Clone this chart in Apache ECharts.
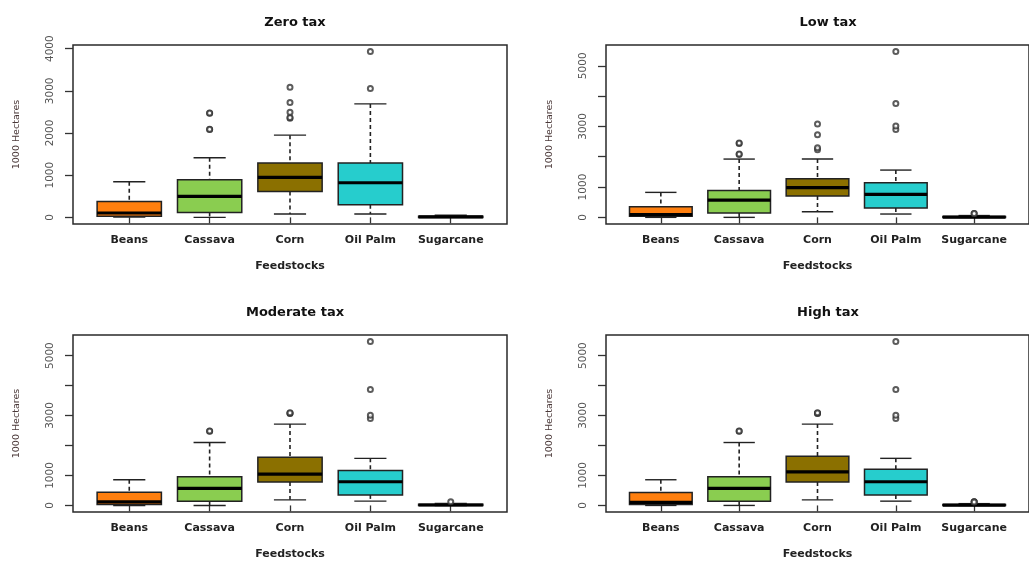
<!DOCTYPE html>
<html>
<head>
<meta charset="utf-8">
<script src="https://cdn.jsdelivr.net/npm/echarts@6/dist/echarts.min.js"></script>
<style>
html, body { margin: 0; padding: 0; background: #fff; }
#chart { width: 1029px; height: 561px; }
</style>
</head>
<body>
<div id="chart"></div>
<script>
// feedstock area under four tax scenarios, boxplots drawn R-style
const categories = ['Beans', 'Cassava', 'Corn', 'Oil Palm', 'Sugarcane'];
const boxColors = ['#ff7f0e', '#8acd50', '#8b7000', '#26cdcd', '#222222'];
const panelTitles = ['Zero tax', 'Low tax', 'Moderate tax', 'High tax'];

// [min, q1, median, q3, max] per feedstock
const zeroTaxBoxes = [
    [10, 24, 104, 379, 845],
    [0, 118, 497, 892, 1412],
    [79, 615, 947, 1287, 1949],
    [79, 300, 821, 1287, 2690],
    [0, 0, 10, 25, 50]
];
const lowTaxBoxes = [
    [0, 33, 88, 352, 824],
    [0, 143, 571, 890, 1923],
    [187, 703, 978, 1275, 1923],
    [110, 308, 758, 1143, 1560],
    [0, 0, 10, 30, 60]
];
const moderateTaxBoxes = [
    [0, 33, 121, 440, 857],
    [0, 143, 571, 956, 2099],
    [187, 780, 1044, 1604, 2714],
    [143, 352, 791, 1165, 1571],
    [0, 0, 15, 40, 70]
];
const highTaxBoxes = [
    [0, 33, 99, 429, 857],
    [0, 143, 571, 956, 2099],
    [187, 780, 1121, 1637, 2714],
    [143, 352, 791, 1209, 1571],
    [0, 0, 10, 35, 60]
];

// outliers: [feedstock number, value]
const zeroTaxOutliers = [
    [2, 2083], [2, 2090], [2, 2469], [2, 2475],
    [3, 2351], [3, 2370], [3, 2493], [3, 2722], [3, 3085],
    [4, 3053], [4, 3929]
];
const lowTaxOutliers = [
    [2, 2077], [2, 2090], [2, 2440], [2, 2452],
    [3, 2231], [3, 2297], [3, 2725], [3, 3077],
    [4, 2900], [4, 3010], [4, 3758], [4, 5473],
    [5, 130], [5, 125]
];
const moderateTaxOutliers = [
    [2, 2473], [2, 2480],
    [3, 3070], [3, 3077], [3, 3090],
    [4, 2900], [4, 3010], [4, 3868], [4, 5473],
    [5, 121]
];
const highTaxOutliers = [
    [2, 2473], [2, 2480],
    [3, 3070], [3, 3077], [3, 3090],
    [4, 2900], [4, 3010], [4, 3868], [4, 5473],
    [5, 121], [5, 125], [5, 118]
];

const zeroTaxTicks = [0, 1000, 2000, 3000, 4000];
const zeroTaxLabels = [0, 1000, 2000, 3000, 4000];
const taxTicks = [0, 1000, 2000, 3000, 4000, 5000];
const taxLabels = [0, 1000, 3000, 5000];

const panels = [
    { boxes: zeroTaxBoxes, outliers: zeroTaxOutliers, yMin: -157, yMax: 4086, ticks: zeroTaxTicks, labels: zeroTaxLabels },
    { boxes: lowTaxBoxes, outliers: lowTaxOutliers, yMin: -219, yMax: 5686, ticks: taxTicks, labels: taxLabels },
    { boxes: moderateTaxBoxes, outliers: moderateTaxOutliers, yMin: -219, yMax: 5686, ticks: taxTicks, labels: taxLabels },
    { boxes: highTaxBoxes, outliers: highTaxOutliers, yMin: -219, yMax: 5686, ticks: taxTicks, labels: taxLabels }
];

const gridPos = [
    { left: 73, top: 45 },
    { left: 606, top: 45 },
    { left: 73, top: 335 },
    { left: 606, top: 335 }
];

const font = 'DejaVu Sans';

function renderBox(params, api) {
    let x = api.value(0)
    let lo = api.coord([x, api.value(1)])
    let q1 = api.coord([x, api.value(2)])
    let med = api.coord([x, api.value(3)])
    let q3 = api.coord([x, api.value(4)])
    let hi = api.coord([x, api.value(5)])
    let w = api.size([0.8, 0])[0]
    let cx = med[0]
    let dash = { stroke: '#222', lineWidth: 1.6, lineDash: [4, 3] }
    let solid = { stroke: '#222', lineWidth: 1.4 }
    return {
        type: 'group',
        children: [
            { type: 'line', shape: { x1: cx, y1: hi[1], x2: cx, y2: q3[1] }, style: dash },
            { type: 'line', shape: { x1: cx, y1: q1[1], x2: cx, y2: lo[1] }, style: dash },
            { type: 'line', shape: { x1: cx - w / 4, y1: hi[1], x2: cx + w / 4, y2: hi[1] }, style: solid },
            { type: 'line', shape: { x1: cx - w / 4, y1: lo[1], x2: cx + w / 4, y2: lo[1] }, style: solid },
            {
                type: 'rect',
                shape: { x: cx - w / 2, y: q3[1], width: w, height: Math.max(q1[1] - q3[1], 1) },
                style: { fill: boxColors[params.dataIndex], stroke: '#222', lineWidth: 1.5 }
            },
            { type: 'line', shape: { x1: cx - w / 2, y1: med[1], x2: cx + w / 2, y2: med[1] }, style: { stroke: '#000', lineWidth: 3.2 } }
        ]
    }
}

let option = { animation: false, title: [], grid: [], xAxis: [], yAxis: [], series: [] }

panels.forEach(function (p, i) {
    let pos = gridPos[i]
    option.title.push({
        text: panelTitles[i],
        left: pos.left + 217,
        top: pos.top - 34,
        textAlign: 'center',
        textStyle: { fontFamily: font, fontSize: 13, fontWeight: 'bold', color: '#111' }
    })
    option.grid.push({
        left: pos.left, top: pos.top, width: 434, height: 179,
        show: true, borderColor: '#2a2a2a', borderWidth: 1.5, backgroundColor: 'transparent'
    })
    option.xAxis.push({
        type: 'value', gridIndex: i, min: 0.3, max: 5.7,
        splitLine: { show: false },
        axisLine: { show: false },
        axisTick: { show: true, customValues: [1, 2, 3, 4, 5], length: 6, lineStyle: { color: '#333', width: 1.3 } },
        axisLabel: {
            customValues: [1, 2, 3, 4, 5],
            formatter: function (v) { return categories[Math.round(v) - 1] },
            margin: 11,
            fontFamily: font, fontSize: 11, fontWeight: 'bold', color: '#222'
        },
        name: 'Feedstocks',
        nameLocation: 'middle',
        nameGap: 37,
        nameTextStyle: { fontFamily: font, fontSize: 11, fontWeight: 'bold', color: '#222' }
    })
    option.yAxis.push({
        type: 'value', gridIndex: i, min: p.yMin, max: p.yMax,
        splitLine: { show: false },
        axisLine: { show: false },
        axisTick: { show: true, customValues: p.ticks, length: 8, lineStyle: { color: '#333', width: 1.3 } },
        axisLabel: {
            customValues: p.labels,
            formatter: function (v) { return String(v) },
            rotate: 90,
            margin: 17,
            fontFamily: font, fontSize: 10.5, color: '#555'
        },
        name: '1000 Hectares',
        nameLocation: 'middle',
        nameGap: 51,
        nameRotate: 90,
        nameTextStyle: { fontFamily: font, fontSize: 9.5, color: '#4a3838' }
    })
    option.series.push({
        type: 'custom',
        xAxisIndex: i, yAxisIndex: i,
        renderItem: renderBox,
        encode: { x: 0, y: [1, 2, 3, 4, 5] },
        data: p.boxes.map(function (b, k) { return [k + 1].concat(b) })
    })
    option.series.push({
        type: 'scatter',
        xAxisIndex: i, yAxisIndex: i,
        symbol: 'emptyCircle',
        symbolSize: 5,
        z: 3,
        itemStyle: { color: '#333', borderWidth: 1.5 },
        data: p.outliers
    })
})

let myChart = echarts.init(document.getElementById('chart'))
myChart.setOption(option)
</script>
</body>
</html>
